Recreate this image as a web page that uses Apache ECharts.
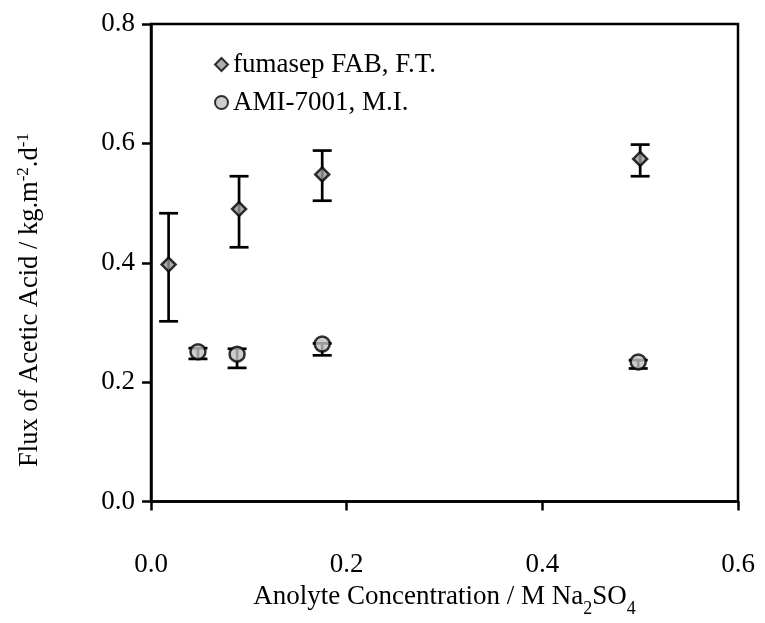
<!DOCTYPE html>
<html>
<head>
<meta charset="utf-8">
<script src="https://cdn.jsdelivr.net/npm/echarts@6/dist/echarts.min.js"></script>
<style>html,body{margin:0;padding:0;background:#fff;}#c{width:765px;height:623px;}</style>
</head>
<body>
<div id="c"></div>
<script>
// Data
const fumX    = [0.018, 0.090, 0.175, 0.500];
const fumY    = [0.397, 0.490, 0.548, 0.574];
const fumLow  = [0.302, 0.426, 0.504, 0.545];
const fumHigh = [0.483, 0.545, 0.588, 0.598];

const amiX    = [0.048, 0.088, 0.175, 0.498];
const amiY    = [0.251, 0.247, 0.264, 0.234];
const amiLow  = [0.239, 0.224, 0.245, 0.223];
const amiHigh = [0.257, 0.256, 0.265, 0.237];

const seriesNames = ['fumasep FAB, F.T.', 'AMI-7001, M.I.'];
const xTicks = [0, 0.2, 0.4, 0.6];
const yTicks = [0, 0.2, 0.4, 0.6, 0.8];

const FONT = 'Liberation Serif, Times New Roman, serif';
const FS = 27;

function pts(xs, ys) { return xs.map((x, i) => [x, ys[i]]); }
function errData(xs, lo, hi) { return xs.map((x, i) => [x, lo[i], hi[i]]); }

function errRender(params, api) {
  const x = api.value(0), lo = api.value(1), hi = api.value(2);
  const pLo = api.coord([x, lo]);
  const pHi = api.coord([x, hi]);
  const cap = 9.5;
  const st = { stroke: '#000', lineWidth: 2.7 };
  return {
    type: 'group',
    children: [
      { type: 'line', shape: { x1: pLo[0], y1: pLo[1], x2: pHi[0], y2: pHi[1] }, style: st },
      { type: 'line', shape: { x1: pLo[0] - cap, y1: pLo[1], x2: pLo[0] + cap, y2: pLo[1] }, style: st },
      { type: 'line', shape: { x1: pHi[0] - cap, y1: pHi[1], x2: pHi[0] + cap, y2: pHi[1] }, style: st }
    ]
  };
}

const chart = echarts.init(document.getElementById('c'), null, { renderer: 'canvas' });
chart.setOption({
  backgroundColor: '#fff',
  animation: false,
  textStyle: { fontFamily: FONT },
  grid: {
    left: 151, right: 27, top: 24, bottom: 104,
    show: true, borderColor: '#000', borderWidth: 2.5, backgroundColor: 'transparent'
  },
  legend: {
    data: seriesNames,
    orient: 'vertical',
    left: 209, top: 46,
    itemWidth: 13, itemHeight: 13,
    itemGap: 11,
    textStyle: { fontFamily: FONT, fontSize: FS, color: '#000', lineHeight: 27 },
    selectedMode: false
  },
  graphic: [{
    type: 'text',
    x: 30, y: 300,
    rotation: Math.PI / 2,
    style: {
      text: '{a|Flux of Acetic Acid / kg.m}{s|-2}{a|.d}{s|-1}',
      align: 'center', verticalAlign: 'middle',
      rich: {
        a: { fontFamily: FONT, fontSize: 26.5, fill: '#000', lineHeight: 30 },
        s: { fontFamily: FONT, fontSize: 17, fill: '#000', verticalAlign: 'top', lineHeight: 30, padding: [0, 0, 8, 0] }
      }
    }
  }],
  xAxis: {
    type: 'value', min: 0, max: 0.6, interval: 0.2,
    axisLine: { show: true, onZero: false, lineStyle: { color: '#000', width: 2.5 } },
    axisTick: { show: true, inside: false, length: 9, lineStyle: { color: '#000', width: 2.5 } },
    splitLine: { show: false },
    axisLabel: {
      margin: 50, color: '#000', fontFamily: FONT, fontSize: FS,
      formatter: v => v.toFixed(1)
    },
    name: '{a|Anolyte Concentration / M Na}{b|2}{a|SO}{b|4}',
    nameLocation: 'middle', nameGap: 78,
    nameTextStyle: {
      rich: {
        a: { fontFamily: FONT, fontSize: FS, color: '#000', lineHeight: 30 },
        b: { fontFamily: FONT, fontSize: 18, color: '#000', verticalAlign: 'bottom', lineHeight: 30, padding: [0, 0, -6, 0] }
      }
    }
  },
  yAxis: {
    type: 'value', min: 0, max: 0.8, interval: 0.2,
    axisLine: { show: true, onZero: false, lineStyle: { color: '#000', width: 2.5 } },
    axisTick: { show: true, inside: false, length: 9, lineStyle: { color: '#000', width: 2.5 } },
    splitLine: { show: false },
    axisLabel: {
      margin: 16, color: '#000', fontFamily: FONT, fontSize: FS,
      formatter: v => v.toFixed(1)
    }
  },
  series: [
    {
      name: 'fumErr', type: 'custom', renderItem: errRender,
      data: errData(fumX, fumLow, fumHigh), z: 2, silent: true
    },
    {
      name: 'amiErr', type: 'custom', renderItem: errRender,
      data: errData(amiX, amiLow, amiHigh), z: 2, silent: true
    },
    {
      name: seriesNames[0], type: 'scatter', data: pts(fumX, fumY),
      symbol: 'diamond', symbolSize: 14, z: 5,
      itemStyle: { color: '#999999', borderColor: '#000', borderWidth: 2.5 }
    },
    {
      name: seriesNames[1], type: 'scatter', data: pts(amiX, amiY),
      symbol: 'circle', symbolSize: 15, z: 5,
      itemStyle: { color: '#c0c0c0', borderColor: '#000', borderWidth: 2.5 }
    }
  ]
});
</script>
</body>
</html>
